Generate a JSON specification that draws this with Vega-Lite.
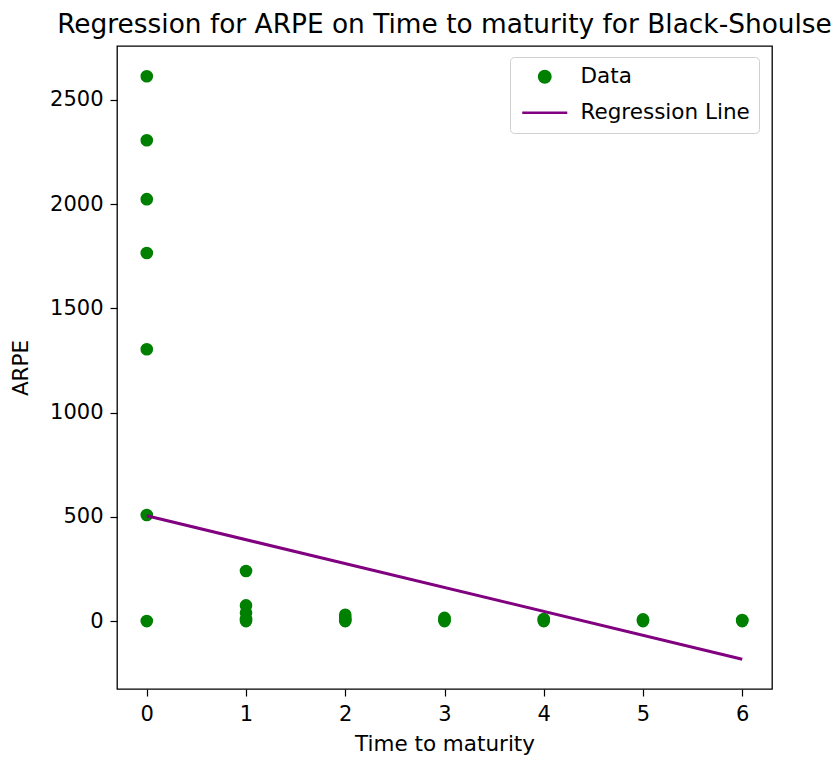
{
  "$schema": "https://vega.github.io/schema/vega-lite/v6.json",
  "autosize": {"type": "none"},
  "width": 655,
  "height": 643,
  "padding": {"left": 117, "top": 46, "right": 63, "bottom": 69},
  "background": "white",
  "title": {"text": "Regression for ARPE on Time to maturity for Black-Shoulse", "fontSize": 26.4, "font": "DejaVu Sans", "fontWeight": "normal", "color": "black", "offset": 8, "anchor": "middle"},
  "config": {
    "view": {"stroke": "black", "strokeWidth": 1.3},
    "axis": {"grid": false, "domain": false, "tickColor": "black", "tickSize": 7, "tickWidth": 1.2, "labelFont": "DejaVu Sans", "labelFontSize": 21, "labelColor": "black", "titleFont": "DejaVu Sans", "titleFontSize": 21.5, "titleFontWeight": "normal", "titleColor": "black", "labelPadding": 7}
  },
  "datasets": {
    "pts": [
      {"ttm": 0, "arpe": 2614, "series": "Data"},
      {"ttm": 0, "arpe": 2307, "series": "Data"},
      {"ttm": 0, "arpe": 2024, "series": "Data"},
      {"ttm": 0, "arpe": 1766, "series": "Data"},
      {"ttm": 0, "arpe": 1304, "series": "Data"},
      {"ttm": 0, "arpe": 509, "series": "Data"},
      {"ttm": 0, "arpe": 0, "series": "Data"},
      {"ttm": 1, "arpe": 240, "series": "Data"},
      {"ttm": 1, "arpe": 75, "series": "Data"},
      {"ttm": 1, "arpe": 40, "series": "Data"},
      {"ttm": 1, "arpe": 10, "series": "Data"},
      {"ttm": 1, "arpe": 0, "series": "Data"},
      {"ttm": 2, "arpe": 30, "series": "Data"},
      {"ttm": 2, "arpe": 15, "series": "Data"},
      {"ttm": 2, "arpe": 5, "series": "Data"},
      {"ttm": 2, "arpe": 0, "series": "Data"},
      {"ttm": 3, "arpe": 15, "series": "Data"},
      {"ttm": 3, "arpe": 5, "series": "Data"},
      {"ttm": 3, "arpe": 0, "series": "Data"},
      {"ttm": 4, "arpe": 10, "series": "Data"},
      {"ttm": 4, "arpe": 0, "series": "Data"},
      {"ttm": 5, "arpe": 8, "series": "Data"},
      {"ttm": 5, "arpe": 0, "series": "Data"},
      {"ttm": 6, "arpe": 5, "series": "Data"},
      {"ttm": 6, "arpe": 0, "series": "Data"}
    ],
    "reg": [
      {"ttm": 0, "arpe": 505, "series": "Regression Line"},
      {"ttm": 6, "arpe": -183, "series": "Regression Line"}
    ]
  },
  "encoding": {
    "x": {"field": "ttm", "type": "quantitative", "title": "Time to maturity", "scale": {"domain": [-0.3, 6.3], "nice": false, "zero": false}, "axis": {"values": [0, 1, 2, 3, 4, 5, 6], "format": "d", "titlePadding": 9}},
    "y": {"field": "arpe", "type": "quantitative", "title": "ARPE", "scale": {"domain": [-326, 2759], "nice": false, "zero": false}, "axis": {"values": [0, 500, 1000, 1500, 2000, 2500], "format": "d", "titlePadding": 17}}
  },
  "layer": [
    {
      "data": {"name": "pts"},
      "mark": {"type": "point", "filled": true, "opacity": 1, "size": 160},
      "encoding": {
        "color": {"field": "series", "type": "nominal", "scale": {"domain": ["Data", "Regression Line"], "range": ["#008000", "#800080"]}, "legend": {
          "title": null, "orient": "none", "legendX": 393, "legendY": 11, "direction": "vertical",
          "labelFont": "DejaVu Sans", "labelFontSize": 21.5, "labelColor": "black", "labelOffset": 25, "labelLimit": 400,
          "padding": 9, "rowPadding": 13, "strokeColor": "#d0d0d0", "fillColor": "white", "cornerRadius": 4,
          "symbolStrokeWidth": 2.5, "symbolSize": 130, "symbolOffset": 15,
          "encode": {"symbols": {"update": {
            "stroke": {"scale": "color", "field": "value"},
            "fill": {"scale": "color", "field": "value"}
          }}}
        }},
        "shape": {"field": "series", "type": "nominal", "scale": {"domain": ["Data", "Regression Line"], "range": ["circle", "M-3.95,0H3.95"]}, "legend": null}
      }
    },
    {
      "data": {"name": "reg"},
      "mark": {"type": "line", "strokeWidth": 3},
      "encoding": {
        "color": {"field": "series", "type": "nominal"}
      }
    }
  ]
}
